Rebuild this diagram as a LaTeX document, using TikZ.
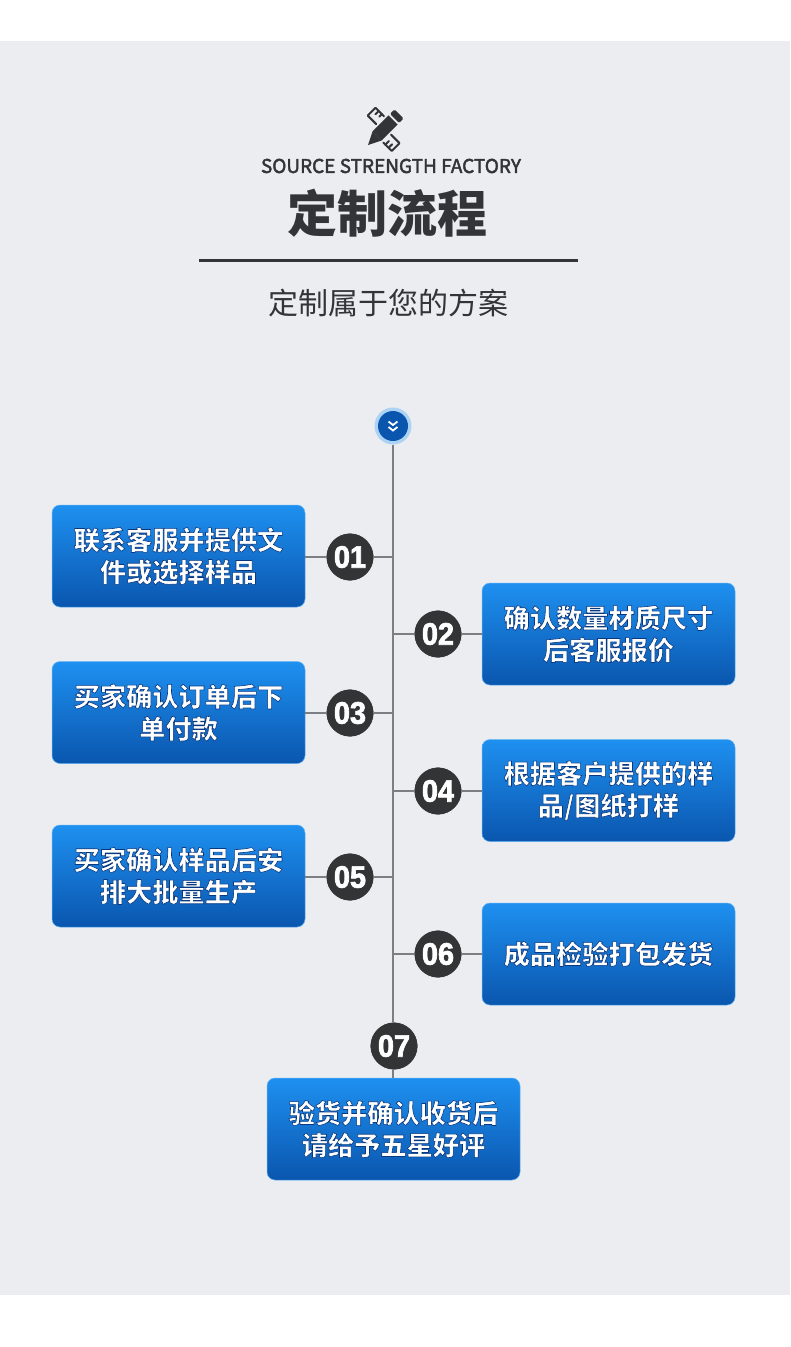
\documentclass[tikz,border=0pt]{standalone}
\usepackage{fontspec}
\setmainfont{Noto Sans CJK SC}
\newfontfamily\digitfont{Liberation Sans}[FakeStretch=0.93]
\definecolor{bgc}{HTML}{EBEDF1}
\definecolor{inkc}{HTML}{333438}
\definecolor{linec}{HTML}{7C7E83}
\definecolor{discc}{HTML}{333436}
\definecolor{boxtop}{HTML}{1E90F0}
\definecolor{boxbot}{HTML}{0A56AE}
\newcommand{\halotext}[1]{\special{pdf:code 2 Tr 0.03 0.22 0.5 RG 0.6 w}#1\special{pdf:code 0 Tr 0.4 w}}
\newcommand{\digittext}[1]{\special{pdf:code 2 Tr 1 1 1 RG 0.7 w}#1\special{pdf:code 0 Tr 0.4 w}}
\newcommand{\medtext}[1]{\special{pdf:code 2 Tr 0.2 0.204 0.22 RG 0.45 w}#1\special{pdf:code 0 Tr 0.4 w}}
\tikzset{
  x=1pt,y=-1pt,
  stepbox/.style={rectangle,rounded corners=8pt,minimum width=253pt,minimum height=102pt,
    inner sep=0pt,draw=boxtop!70!white,line width=.5pt,
    top color=boxtop,bottom color=boxbot,text=white,align=center,
    font=\fontsize{26.2}{32}\bfseries\selectfont},
  numdisc/.style={circle,fill=discc,draw=white!80!bgc,line width=.6pt,minimum size=48pt,inner sep=0pt,text=white,
    font=\fontsize{31}{31}\digitfont\bfseries\selectfont},
  branch/.style={draw=linec,line width=1.2pt},
  icon/.style={fill=inkc,draw=none},
  iconline/.style={draw=inkc,line width=2pt,line join=round,line cap=round},
}
\begin{document}
\begin{tikzpicture}
\useasboundingbox (0,0) rectangle (790,1347);
\fill[white] (0,0) rectangle (790,1347);
\fill[bgc] (0,41) rectangle (790,1295);

% icon
\begin{scope}[shift={(368,145)},rotate=45]
  \draw[iconline] (20.6,-9) -- (20.6,-21) -- (31.6,-21) -- (31.6,-9);
  \draw[iconline] (31.6,-16.5) -- (27,-16.5) (31.6,-12) -- (28,-12);
  \draw[iconline] (12.6,9) -- (12.6,21) -- (23.6,21) -- (23.6,9);
  \draw[iconline] (12.6,12) -- (17.5,12) (12.6,16.5) -- (17.5,16.5);
  \fill[icon] (0,0) -- (13,-6.5) -- (13,6.5) -- cycle;
  \fill[icon] (13,-6.5) rectangle (35.5,6.5);
  \fill[icon,rounded corners=1.5pt] (37.5,-6.5) -- (44,-6.5) -- (44,6.5) -- (37.5,6.5) -- cycle;
\end{scope}

\node[font=\fontsize{19}{20}\selectfont,text=inkc,inner sep=0pt] (eng) at (391,166) {\medtext{SOURCE STRENGTH FACTORY}};
\node[font=\fontsize{50}{50}\bfseries\selectfont,text=inkc,inner sep=0pt] (title) at (387,213) {定制流程};
\coordinate (ruleL) at (199,260);
\coordinate (ruleR) at (578,260);
\draw[draw=inkc,line width=3pt] (ruleL) -- (ruleR);
\node[font=\fontsize{30}{30}\selectfont,text=inkc,inner sep=0pt] (sub) at (388,303) {定制属于您的方案};

% top marker
\node[circle,fill=white!45!boxtop!60!bgc,minimum size=37pt,inner sep=0pt] (top) at (393,426) {};
\node[circle,fill=boxbot,minimum size=30pt,inner sep=0pt] (topin) at (393,426) {};
\draw[white,line width=1.8pt] (388.5,421.5) -- (393,425) -- (397.5,421.5);
\draw[white,line width=1.8pt] (388.5,427) -- (393,430.5) -- (397.5,427);

% nodes
\node[stepbox] (b1) at (178.5,556) {\halotext{联系客服并提供文\\件或选择样品}};
\node[stepbox] (b2) at (608.5,634) {\halotext{确认数量材质尺寸\\后客服报价}};
\node[stepbox] (b3) at (178.5,712.5) {\halotext{买家确认订单后下\\单付款}};
\node[stepbox] (b4) at (608.5,790.5) {\halotext{根据客户提供的样\\品/图纸打样}};
\node[stepbox] (b5) at (178.5,876) {\halotext{买家确认样品后安\\排大批量生产}};
\node[stepbox] (b6) at (608.5,954) {\halotext{成品检验打包发货}};
\node[stepbox] (b7) at (393.5,1129) {\halotext{验货并确认收货后\\请给予五星好评}};

\node[numdisc] (n1) at (350,557) {\digittext{01}};
\node[numdisc] (n2) at (438,634) {\digittext{02}};
\node[numdisc] (n3) at (350,713) {\digittext{03}};
\node[numdisc] (n4) at (438,791) {\digittext{04}};
\node[numdisc] (n5) at (350,877) {\digittext{05}};
\node[numdisc] (n6) at (438,954) {\digittext{06}};
\node[numdisc] (n7) at (394,1046) {\digittext{07}};

\coordinate (j1) at (393,557);
\coordinate (j2) at (393,634);
\coordinate (j3) at (393,713);
\coordinate (j4) at (393,791);
\coordinate (j5) at (393,877);
\coordinate (j6) at (393,954);
\coordinate (j7) at (393,1078);

\draw[branch] (top.south) -- (n7.north -| top.south);
\draw[branch] (n7.south -| j7) -- (j7);
\draw[branch] (b1.east |- n1) -- (n1.west);
\draw[branch] (n1.east) -- (j1);
\draw[branch] (j2) -- (n2.west);
\draw[branch] (n2.east) -- (b2.west |- n2);
\draw[branch] (b3.east |- n3) -- (n3.west);
\draw[branch] (n3.east) -- (j3);
\draw[branch] (j4) -- (n4.west);
\draw[branch] (n4.east) -- (b4.west |- n4);
\draw[branch] (b5.east |- n5) -- (n5.west);
\draw[branch] (n5.east) -- (j5);
\draw[branch] (j6) -- (n6.west);
\draw[branch] (n6.east) -- (b6.west |- n6);
\end{tikzpicture}
\end{document}
